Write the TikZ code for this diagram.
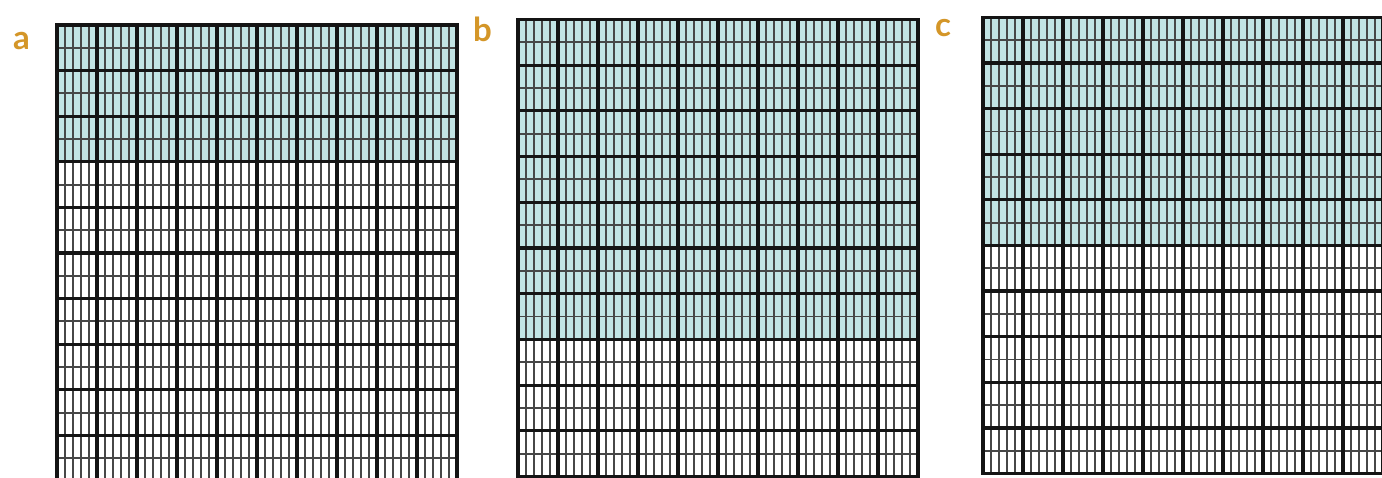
\documentclass[tikz,border=0pt]{standalone}
\usepackage{fontspec}
\newfontfamily\labfont{Lato}
\definecolor{paneshade}{RGB}{194,228,228}
\definecolor{labgold}{RGB}{212,150,40}
\newcommand\gridpanel[4]{%
  \pgfmathsetmacro\gpx{#1}%
  \pgfmathsetmacro\gpy{#2}%
  \pgfmathsetmacro\gph{#3}%
  \fill[paneshade] (\gpx,\gpy) rectangle (\gpx+400,\gpy+#4*\gph);
  \foreach \i in {0,...,50}{%
    \pgfmathtruncatemacro\ismaj{mod(\i,5)==0 ? 1 : 0}%
    \ifnum\ismaj=0
      \draw[thinline] (\gpx+8*\i,\gpy) -- (\gpx+8*\i,\gpy+10*\gph);
    \fi
  }
  \foreach \j in {0,...,20}{%
    \pgfmathtruncatemacro\ismaj{mod(\j,2)==0 ? 1 : 0}%
    \ifnum\ismaj=0
      \draw[thinline] (\gpx,\gpy+\j*\gph/2) -- (\gpx+400,\gpy+\j*\gph/2);
    \fi
  }
  \foreach \i in {0,...,10}{%
    \draw[thickline] (\gpx+40*\i,\gpy) -- (\gpx+40*\i,\gpy+10*\gph);
  }
  \foreach \j in {0,...,10}{%
    \draw[thickline] (\gpx,\gpy+\j*\gph) -- (\gpx+400,\gpy+\j*\gph);
  }
}
\begin{document}
\begin{tikzpicture}[x=1pt,y=-1pt,
  thickline/.style={line width=3.2pt,black!92,line cap=rect},
  thinline/.style={line width=1.9pt,black!72},
  panellabel/.style={font=\labfont\bfseries\fontsize{33}{33}\selectfont,text=labgold,anchor=base west,inner sep=0pt}]
\useasboundingbox (0,0) rectangle (1382,478);
\fill[white] (0,0) rectangle (1382,478);
\begin{scope}
\clip (0,0) rectangle (1382,478);
\gridpanel{57}{25}{45.6}{3}
\gridpanel{518}{19.5}{45.7}{7}
\gridpanel{983}{17.5}{45.6}{5}
\end{scope}
\node[panellabel] (la) at (13,50) {a};
\node[panellabel] (lb) at (473,42) {b};
\node[panellabel] (lc) at (935,37) {c};
\end{tikzpicture}
\end{document}
